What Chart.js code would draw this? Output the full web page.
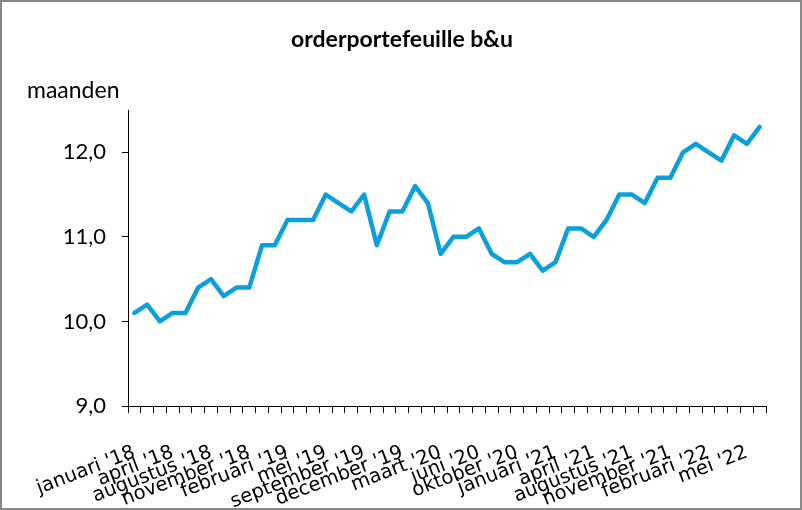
<!DOCTYPE html>
<html>
<head>
<meta charset="utf-8">
<script src="https://cdn.jsdelivr.net/npm/chart.js@4"></script>
<style>
  html, body { margin: 0; padding: 0; background: #fff; }
  #wrap { width: 802px; height: 510px; position: relative; }
</style>
</head>
<body>
<div id="wrap"><canvas id="chart" width="802" height="510"></canvas></div>
<script>
// =================== DATA ===================
const maanden = [
  "januari '18", "februari '18", "maart '18", "april '18", "mei '18", "juni '18",
  "augustus '18", "september '18", "oktober '18", "november '18", "december '18",
  "januari '19", "februari '19", "maart '19", "april '19", "mei '19", "juni '19",
  "augustus '19", "september '19", "oktober '19", "november '19", "december '19",
  "januari '20", "februari '20", "maart '20", "april '20", "mei '20", "juni '20",
  "augustus '20", "september '20", "oktober '20", "november '20", "december '20",
  "januari '21", "februari '21", "maart '21", "april '21", "mei '21", "juni '21",
  "augustus '21", "september '21", "oktober '21", "november '21", "december '21",
  "januari '22", "februari '22", "maart '22", "april '22", "mei '22", "juni '22"
];

const orderportefeuille = [
  10.1, 10.2, 10.0, 10.1, 10.1, 10.4, 10.5, 10.3, 10.4, 10.4,
  10.9, 10.9, 11.2, 11.2, 11.2, 11.5, 11.4, 11.3, 11.5, 10.9,
  11.3, 11.3, 11.6, 11.4, 10.8, 11.0, 11.0, 11.1, 10.8, 10.7,
  10.7, 10.8, 10.6, 10.7, 11.1, 11.1, 11.0, 11.2, 11.5, 11.5,
  11.4, 11.7, 11.7, 12.0, 12.1, 12.0, 11.9, 12.2, 12.1, 12.3
];

const yTicks = [9, 10, 11, 12];

// =================== EXTRA TEXT + FRAME ===================
const decor = {
  id: "decor",
  afterDraw(chart) {
    const c = chart.ctx;
    c.save();
    c.fillStyle = "#000";
    c.textBaseline = "alphabetic";
    c.textAlign = "center";
    c.font = "bold 23px Lato";
    c.fillText("orderportefeuille b&u", 402, 47);
    c.textAlign = "left";
    c.font = "23px Lato";
    c.fillText("maanden", 27, 98);
    c.strokeStyle = "#888";
    c.lineWidth = 2;
    c.strokeRect(1, 1, 800, 508);
    c.restore();
  },
};

// =================== CHART ===================
new Chart(document.getElementById("chart"), {
  type: "line",
  data: {
    labels: maanden,
    datasets: [
      {
        label: "orderportefeuille",
        data: orderportefeuille,
        borderColor: "#0aa0db",
        borderWidth: 4.5,
        borderJoinStyle: "round",
        borderCapStyle: "round",
        tension: 0,
        pointRadius: 0,
        fill: false,
      },
    ],
  },
  options: {
    responsive: false,
    animation: false,
    layout: { padding: { left: 0, right: 36, top: 110, bottom: 0 } },
    plugins: { legend: { display: false }, tooltip: { enabled: false } },
    scales: {
      x: {
        offset: true,
        grid: { offset: true, drawOnChartArea: false, color: "#000", tickLength: 7 },
        border: { color: "#000", width: 1 },
        ticks: {
          autoSkip: false,
          minRotation: 21,
          maxRotation: 21,
          padding: 28,
          color: "#000",
          font: { family: "DejaVu Sans", size: 19.5 },
          callback: (v, i) => (i % 3 === 0 ? maanden[i] : ""),
        },
        afterFit: (s) => { s.height = 104; },
      },
      y: {
        min: 9,
        max: 12.5,
        afterBuildTicks: (s) => { s.ticks = yTicks.map((v) => ({ value: v })); },
        grid: { drawOnChartArea: false, color: "#000", tickLength: 6 },
        border: { color: "#000", width: 1 },
        ticks: {
          padding: 16,
          color: "#000",
          font: { family: "Lato", size: 22 },
          callback: (v) => v.toFixed(1).replace(".", ","),
        },
        afterFit: (s) => { s.width = 128; },
      },
    },
  },
  plugins: [decor],
});
</script>
</body>
</html>
